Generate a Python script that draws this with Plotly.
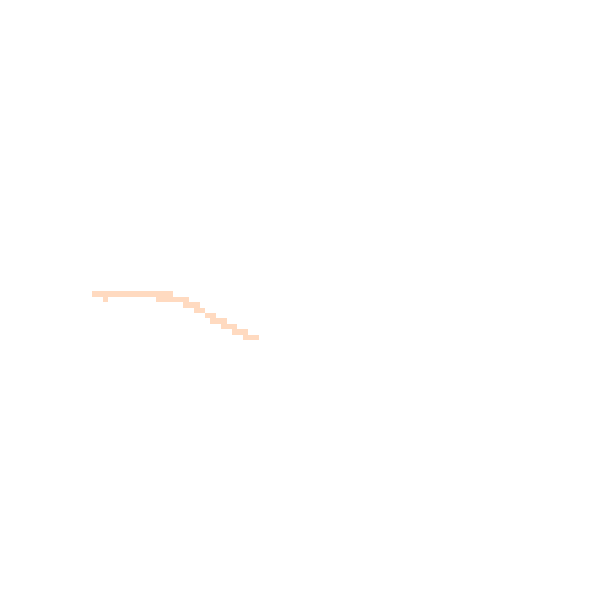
import numpy as np
import plotly.graph_objects as go

# --- Data: occupied cells of the grid, one run of columns per row ---
GRID_SIZE = 111
run_rows = [54, 55, 55, 56, 57, 58, 59, 60, 61, 62]
run_first_col = [17, 19, 29, 34, 36, 38, 39, 41, 43, 45]
run_last_col = [31, 19, 34, 36, 37, 39, 41, 43, 45, 47]
cell_value = 1

PEACH = "rgb(255,218,192)"


def build_grid():
    z = np.full((GRID_SIZE, GRID_SIZE), np.nan)
    for r, c0, c1 in zip(run_rows, run_first_col, run_last_col):
        z[r, c0:c1 + 1] = cell_value
    return z


z = build_grid()
centers = np.arange(GRID_SIZE) + 0.5

fig = go.Figure(go.Heatmap(
    z=z,
    x=centers,
    y=centers,
    colorscale=[[0, PEACH], [1, PEACH]],
    showscale=False,
    hoverongaps=False,
))

# 5.4 px per cell; page body margin pushes the plot 8 px, so start the view a bit in
cell_px = 5.4
span = 600 / cell_px
start = 8 / cell_px
fig.update_layout(
    width=600,
    height=600,
    margin=dict(l=0, r=0, t=0, b=0),
    paper_bgcolor="white",
    plot_bgcolor="white",
)
fig.update_xaxes(visible=False, range=[start, start + span])
fig.update_yaxes(visible=False, range=[start + span, start])

fig.write_html("out.html")
